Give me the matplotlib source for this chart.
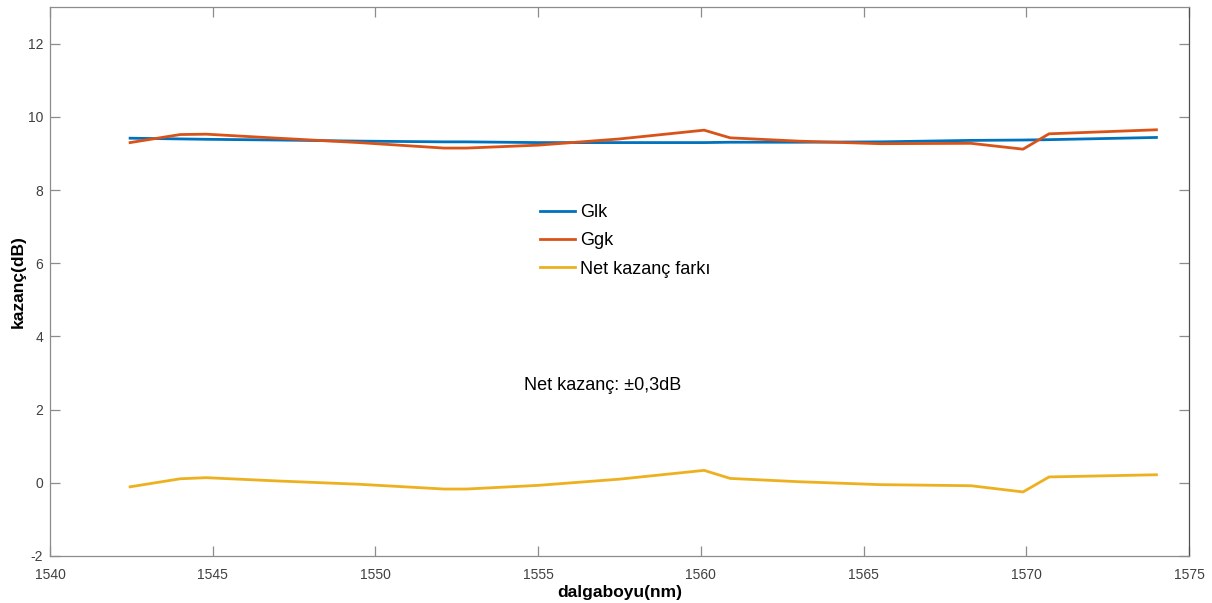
import numpy as np
import matplotlib.pyplot as plt

plt.rcParams['font.family'] = ['Liberation Sans', 'DejaVu Sans']
plt.rcParams['axes.unicode_minus'] = False

# wavelength grid (nm)
wavelength = [1542.46, 1544.0, 1544.8, 1547.0, 1549.5, 1552.1, 1552.8, 1555.0, 1557.5,
              1560.1, 1560.9, 1563.0, 1565.5, 1568.3, 1569.9, 1570.7, 1574.0]
glk = [9.42, 9.40, 9.39, 9.37, 9.34, 9.32, 9.32, 9.30, 9.30,
       9.30, 9.31, 9.31, 9.32, 9.36, 9.37, 9.38, 9.44]
ggk = [9.30, 9.52, 9.53, 9.42, 9.30, 9.15, 9.15, 9.23, 9.40,
       9.64, 9.43, 9.34, 9.27, 9.28, 9.12, 9.54, 9.65]
net = [-0.11, 0.11, 0.14, 0.05, -0.04, -0.17, -0.17, -0.07, 0.10,
       0.34, 0.12, 0.03, -0.05, -0.08, -0.25, 0.16, 0.22]

series = [('Glk', glk, '#0072BD'), ('Ggk', ggk, '#D95319'), ('Net kazanç farkı', net, '#EDB120')]

fig = plt.figure(figsize=(12.12, 6.03), dpi=100)
ax = fig.add_axes([0.0413, 0.078, 0.9397, 0.910])

for name, vals, col in series:
    ax.plot(wavelength, vals, color=col, lw=2.0, label=name)

ax.set_xlim(1540, 1575)
ax.set_ylim(-2, 13)
ax.set_xticks(np.arange(1540, 1576, 5))
ax.set_yticks(np.arange(-2, 13, 2))

ax.tick_params(direction='in', length=7, width=0.9, color='#8c8c8c',
               labelcolor='#404040', labelsize=10, top=True, right=True)
ax.tick_params(axis='x', pad=9)
ax.tick_params(axis='y', pad=5)
for sp in ax.spines.values():
    sp.set_color('#8c8c8c')
    sp.set_linewidth(0.9)
ax.spines['right'].set_color('#505050')

ax.set_xlabel('dalgaboyu(nm)', fontsize=12.5, fontweight='bold', va='center')
ax.set_ylabel('kazanç(dB)', fontsize=12.5, fontweight='bold', va='center')
ax.xaxis.set_label_coords(0.5, -0.066)
ax.yaxis.set_label_coords(-0.028, 0.5)

ax.legend(loc='upper left', bbox_to_anchor=(0.43, 0.641), frameon=False,
          fontsize=13, handlelength=1.95, handletextpad=0.3, labelspacing=0.62,
          borderpad=0, borderaxespad=0)

ax.text(1554.55, 2.65, 'Net kazanç: ±0,3dB', fontsize=13, va='center', ha='left')

fig.savefig('out.png', dpi=100)
